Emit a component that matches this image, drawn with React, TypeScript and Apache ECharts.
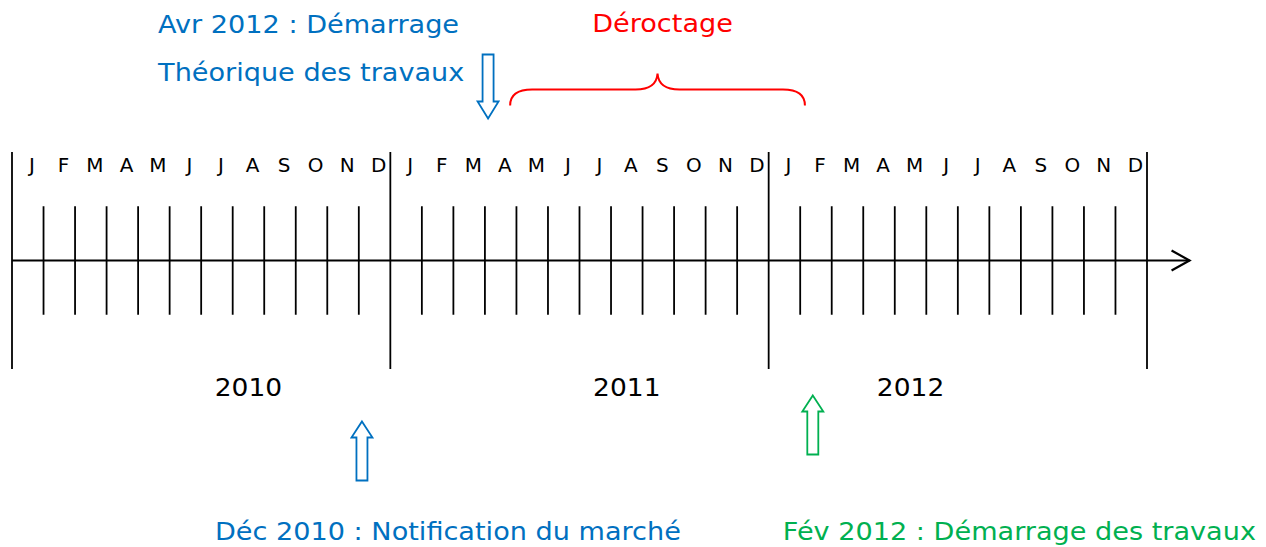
import React, { useEffect, useRef } from "react";
import * as echarts from "echarts";

// ---- Data ----
const monthLetters = ["J", "F", "M", "A", "M", "J", "J", "A", "S", "O", "N", "D"];
const years = ["2010", "2011", "2012"];
const yearStarts = [0, 12, 24, 36]; // month index of year boundaries (Jan 2010 = 0)
const yearLabelPos = [7.5, 19.5, 28.5];
const axisEndMonth = 37.35;

// Events (month index, Jan 2010 = 0)
const notificationMonth = 11.1; // Déc 2010
const theoreticalStartMonth = 15.1; // "Avr" marker
const worksStartMonth = 25.4; // Fév 2012
const deroctageRange = [15.8, 25.15];

const notificationLabel = "Déc 2010 : Notification du marché";
const theoreticalLabel = ["Avr 2012 : Démarrage", "Théorique des travaux"];
const worksStartLabel = "Fév 2012 : Démarrage des travaux";
const deroctageLabel = "Déroctage";

const BLUE = "#0070C0";
const GREEN = "#00B050";
const RED = "#FF0000";
const FONT = "DejaVu Sans";
const TXT_SCALE = 1.13;

function upArrow(cx: number, tip: number, bottom: number) {
  const hw = 10.5, sw = 5.5, hh = 16;
  return [
    [cx, tip], [cx + hw, tip + hh], [cx + sw, tip + hh], [cx + sw, bottom],
    [cx - sw, bottom], [cx - sw, tip + hh], [cx - hw, tip + hh],
  ];
}
function downArrow(cx: number, top: number, tip: number) {
  const hw = 10.5, sw = 5.5, hh = 17;
  return [
    [cx - sw, top], [cx + sw, top], [cx + sw, tip - hh], [cx + hw, tip - hh],
    [cx, tip], [cx - hw, tip - hh], [cx - sw, tip - hh],
  ];
}

export default function App() {
  const ref = useRef<HTMLDivElement>(null);
  useEffect(() => {
    if (!ref.current) return;
    const chart = echarts.init(ref.current, undefined, { renderer: "svg" });

    const allMonths: number[] = [];
    for (let m = 0; m < 36; m++) allMonths.push(m);

    const label = (x: number, y: number, text: string, fill: string, align: string, size = 24, sx = TXT_SCALE) => ({
      type: "text",
      x,
      y,
      scaleX: sx,
      style: { text, fill, font: `${size}px "${FONT}"`, align, verticalAlign: "middle" },
    });

    const option: any = {
      animation: false,
      grid: { left: 12, right: 119, top: 152, bottom: 178 },
      xAxis: { type: "value", min: 0, max: 36, show: false },
      yAxis: { type: "value", min: -2, max: 2, show: false },
      series: [
        {
          type: "custom",
          clip: false,
          silent: true,
          data: [0],
          renderItem: (params: any, api: any) => {
            const children: any[] = [];
            const lineStyle = { stroke: "#000", lineWidth: 1.8 };
            // main axis with arrow
            const a0 = api.coord([0, 0]);
            const a1 = api.coord([axisEndMonth, 0]);
            children.push({ type: "line", shape: { x1: a0[0], y1: a0[1], x2: a1[0], y2: a1[1] }, style: lineStyle });
            children.push({
              type: "polyline",
              shape: { points: [[a1[0] - 18, a1[1] - 10], [a1[0], a1[1]], [a1[0] - 18, a1[1] + 10]] },
              style: { stroke: "#000", lineWidth: 2.2, fill: "none" },
            });
            // year boundaries
            yearStarts.forEach((m) => {
              const p0 = api.coord([m, 2]);
              const p1 = api.coord([m, -2]);
              children.push({ type: "line", shape: { x1: p0[0], y1: p0[1], x2: p1[0], y2: p1[1] }, style: lineStyle });
            });
            // month ticks and letters
            allMonths.forEach((m) => {
              if (m % 12 !== 0) {
                const p0 = api.coord([m, 1]);
                const p1 = api.coord([m, -1]);
                children.push({ type: "line", shape: { x1: p0[0], y1: p0[1], x2: p1[0], y2: p1[1] }, style: lineStyle });
              }
              const t = api.coord([m + 0.63, 2]);
              children.push(label(t[0], t[1] + 14, monthLetters[m % 12], "#000", "center", 19, 1.05));
            });
            // year labels
            years.forEach((y, i) => {
              const t = api.coord([yearLabelPos[i], -2]);
              children.push(label(t[0], t[1] + 18, y, "#000", "center", 25, 1.06));
            });
            // notification arrow (blue, up)
            const n = api.coord([notificationMonth, 0]);
            children.push({
              type: "polygon",
              shape: { points: upArrow(n[0], n[1] + 161, n[1] + 220) },
              style: { stroke: BLUE, lineWidth: 1.8, fill: "#fff" },
            });
            children.push(label(n[0] - 147, n[1] + 271, notificationLabel, BLUE, "left"));
            // works start arrow (green, up)
            const w = api.coord([worksStartMonth, 0]);
            children.push({
              type: "polygon",
              shape: { points: upArrow(w[0], w[1] + 135, w[1] + 194) },
              style: { stroke: GREEN, lineWidth: 1.8, fill: "#fff" },
            });
            children.push(label(w[0] - 30, w[1] + 271, worksStartLabel, GREEN, "left"));
            // theoretical start arrow (blue, down)
            const th = api.coord([theoreticalStartMonth, 0]);
            children.push({
              type: "polygon",
              shape: { points: downArrow(th[0], th[1] - 206, th[1] - 142) },
              style: { stroke: BLUE, lineWidth: 1.8, fill: "#fff" },
            });
            theoreticalLabel.forEach((s, i) => {
              children.push(label(th[0] - 330, th[1] - 236 + i * 48, s, BLUE, "left"));
            });
            // déroctage brace (red)
            const b0 = api.coord([deroctageRange[0], 0]);
            const b1 = api.coord([deroctageRange[1], 0]);
            const xl = b0[0], xr = b1[0];
            const xm = (xl + xr) / 2;
            const yEnd = b0[1] - 155, yBar = b0[1] - 171, yPeak = b0[1] - 187;
            const d =
              `M ${xl} ${yEnd} Q ${xl} ${yBar} ${xl + 22} ${yBar} L ${xm - 22} ${yBar} ` +
              `Q ${xm - 1} ${yBar} ${xm} ${yPeak} Q ${xm + 1} ${yBar} ${xm + 22} ${yBar} ` +
              `L ${xr - 22} ${yBar} Q ${xr} ${yBar} ${xr} ${yEnd}`;
            children.push({
              type: "path",
              shape: { pathData: d },
              style: { stroke: RED, lineWidth: 2, fill: "none" },
            });
            children.push(label(xm + 5, b0[1] - 237, deroctageLabel, RED, "center"));
            return { type: "group", children };
          },
        },
      ],
    };
    chart.setOption(option);
    return () => chart.dispose();
  }, []);
  return (
    <div
      ref={ref}
      style={{ position: "fixed", left: 0, top: 0, width: 1266, height: 547, background: "#fff" }}
    />
  );
}
